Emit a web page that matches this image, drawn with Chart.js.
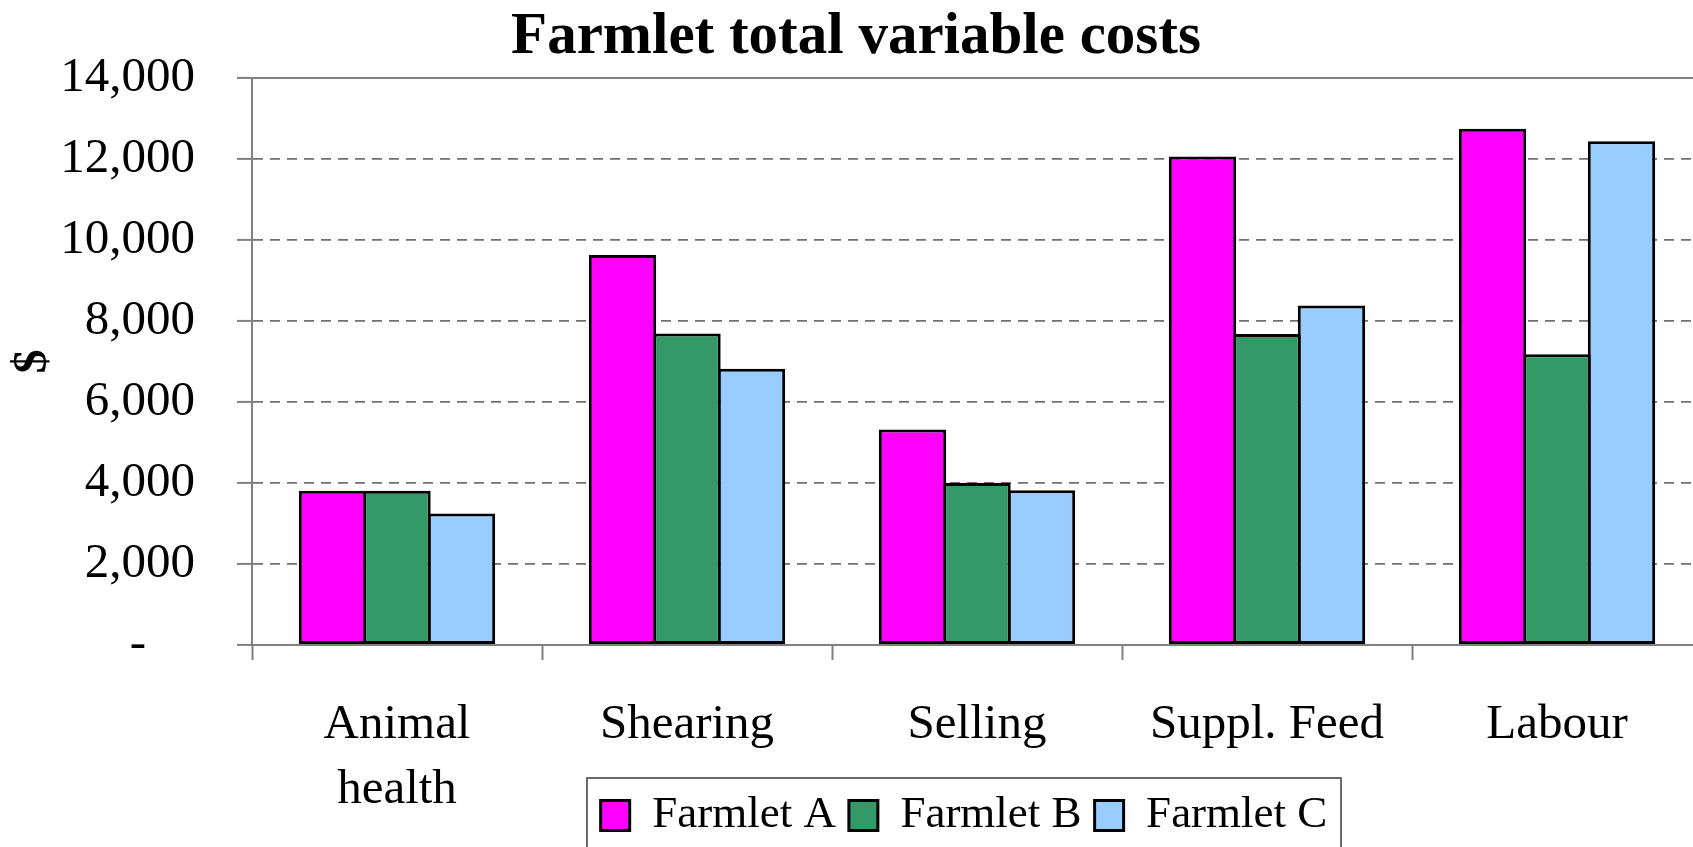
<!DOCTYPE html>
<html>
<head>
<meta charset="utf-8">
<script src="https://cdn.jsdelivr.net/npm/chart.js@4/dist/chart.umd.min.js"></script>
<style>
  html, body { margin: 0; padding: 0; overflow: hidden; background: #ffffff; width: 1693px; height: 847px; }
  canvas { display: block; }
</style>
</head>
<body>
<canvas id="chart" width="1712" height="893"></canvas>
<script>
// ---- data ----
const chartTitle = "Farmlet total variable costs";
const yAxisTitle = "$";
const categories = [["Animal", "health"], "Shearing", "Selling", "Suppl. Feed", "Labour"];
const seriesNames = ["Farmlet A", "Farmlet B", "Farmlet C"];
const farmletA = [3810, 9630, 5320, 12060, 12750];
const farmletB = [3810, 7690, 4000, 7680, 7180];
const farmletC = [3250, 6820, 3820, 8380, 12440];
const yTickValues = [0, 2000, 4000, 6000, 8000, 10000, 12000, 14000];
const yTickLabels = ["-\u2003", "2,000", "4,000", "6,000", "8,000", "10,000", "12,000", "14,000"];

const seriesColors = ["#FF00FF", "#339966", "#99CCFF"];
const FONT = "'Liberation Serif', 'Times New Roman', Times, serif";
const GRAY = "#808080";

// legend frame (Excel-style box under the axis labels)
const legendFrame = {
  id: 'legendFrame',
  afterLayout(chart) {
    const lg = chart.legend;
    if (!lg) return;
    const h = lg.bottom - lg.top;
    lg.left = 587;
    lg.right = 1341;
    lg.width = lg.right - lg.left;
    lg.top = 780;
    lg.bottom = lg.top + h;
  },
  afterDraw(chart) {
    const lg = chart.legend;
    if (!lg) return;
    const ctx = chart.ctx;
    ctx.save();
    ctx.strokeStyle = '#3a3a3a';
    ctx.lineWidth = 1.5;
    ctx.strokeRect(lg.left, lg.top - 2, lg.right - lg.left, 120);
    ctx.restore();
  }
};

const datasets = [farmletA, farmletB, farmletC].map((vals, i) => ({
  label: seriesNames[i],
  data: vals,
  backgroundColor: seriesColors[i],
  borderColor: '#000000',
  borderWidth: 3,
  borderSkipped: false,
  categoryPercentage: 0.667,
  barPercentage: 1.045
}));

new Chart(document.getElementById('chart'), {
  type: 'bar',
  data: { labels: categories, datasets },
  plugins: [legendFrame],
  options: {
    responsive: false,
    animation: false,
    devicePixelRatio: 1,
    layout: { padding: { left: 10, right: 10, top: 0, bottom: 0 } },
    plugins: {
      tooltip: { enabled: false },
      title: {
        display: true,
        text: chartTitle,
        color: '#000000',
        font: { family: FONT, size: 59, weight: 'bold', lineHeight: 1 },
        padding: { top: 8, bottom: 11 }
      },
      legend: {
        display: true,
        position: 'bottom',
        align: 'center',
        labels: {
          color: '#000000',
          font: { family: FONT, size: 45 },
          boxWidth: 29,
          boxHeight: 30,
          padding: 13
        }
      }
    },
    scales: {
      x: {
        type: 'category',
        position: 'bottom',
        offset: true,
        afterFit: (scale) => { scale.height = 180; },
        grid: {
          display: true,
          offset: true,
          drawOnChartArea: false,
          drawTicks: true,
          tickLength: 15,
          tickColor: GRAY,
          tickWidth: 2,
          color: GRAY
        },
        border: { display: true, color: GRAY, width: 2 },
        ticks: {
          autoSkip: false,
          maxRotation: 0,
          minRotation: 0,
          padding: 33,
          color: '#000000',
          font: { family: FONT, size: 49, lineHeight: 1.3265 }
        }
      },
      xTop: {
        type: 'category',
        position: 'top',
        offset: true,
        grid: { display: false, drawTicks: false },
        border: { display: true, color: GRAY, width: 2 },
        ticks: { display: false }
      },
      y: {
        type: 'linear',
        position: 'left',
        min: yTickValues[0],
        max: yTickValues[yTickValues.length - 1],
        afterFit: (scale) => { scale.width = 242; },
        afterBuildTicks: (scale) => { scale.ticks = yTickValues.map(v => ({ value: v })); },
        grid: {
          display: true,
          drawOnChartArea: true,
          drawTicks: true,
          tickLength: 15,
          tickColor: GRAY,
          tickWidth: 2,
          color: '#707070',
          lineWidth: 1.8
        },
        border: { display: true, color: GRAY, width: 2, dash: [10, 7] },
        ticks: {
          padding: 42,
          color: '#000000',
          font: { family: FONT, size: 49 },
          callback: (value) => {
            const idx = yTickValues.indexOf(value);
            return idx >= 0 ? yTickLabels[idx] : '';
          }
        },
        title: {
          display: true,
          text: yAxisTitle,
          color: '#000000',
          font: { family: FONT, size: 48, weight: 'bold', lineHeight: 1.0 },
          padding: { top: 0, bottom: 0 }
        }
      }
    }
  }
});
</script>
</body>
</html>
